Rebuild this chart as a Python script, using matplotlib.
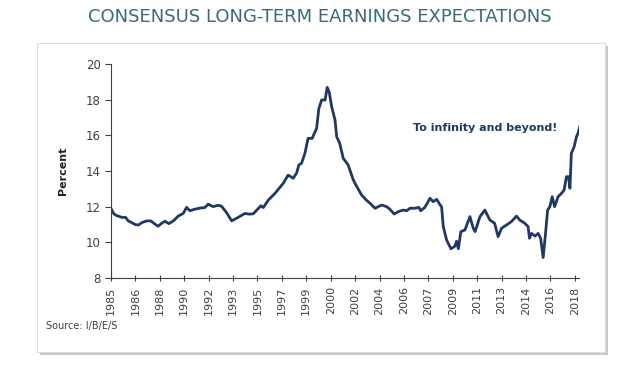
import matplotlib
matplotlib.use("Agg")
import matplotlib.pyplot as plt
from matplotlib.patches import Rectangle
import numpy as np

# long-term earnings growth expectations (decimal year, percent)
years = [1985.00, 1985.10, 1985.20, 1985.40, 1985.60, 1985.77, 1986.05, 1986.24, 1986.50, 1986.72,
         1986.96, 1987.20, 1987.55, 1987.86, 1988.10, 1988.38, 1988.63, 1988.87, 1989.15, 1989.47,
         1989.82, 1990.18, 1990.42, 1990.66, 1990.97, 1991.38, 1991.73, 1991.97, 1992.33, 1992.69,
         1992.93, 1993.29, 1993.65, 1994.12, 1994.60, 1994.90, 1995.20, 1995.56, 1995.75, 1995.92,
         1996.28, 1996.76, 1997.35, 1997.70, 1998.06, 1998.30, 1998.47, 1998.66, 1998.90, 1999.13,
         1999.42, 1999.74, 1999.90, 2000.10, 2000.35, 2000.50, 2000.65, 2000.82, 2001.06, 2001.18,
         2001.40, 2001.65, 2002.00, 2002.37, 2002.60, 2002.97, 2003.30, 2003.57, 2003.93, 2004.17,
         2004.40, 2004.76, 2005.00, 2005.30, 2005.60, 2005.95, 2006.20, 2006.43, 2006.79, 2007.07,
         2007.20, 2007.50, 2007.87, 2008.10, 2008.35, 2008.60, 2008.70, 2008.82, 2009.06, 2009.37,
         2009.65, 2009.77, 2009.90, 2010.08, 2010.37, 2010.73, 2010.97, 2011.10, 2011.45, 2011.80,
         2012.16, 2012.50, 2012.75, 2013.00, 2013.35, 2013.70, 2014.07, 2014.30, 2014.66, 2014.90,
         2015.00, 2015.15, 2015.40, 2015.62, 2015.80, 2015.98, 2016.15, 2016.30, 2016.46, 2016.63,
         2016.80, 2017.05, 2017.30, 2017.48, 2017.65, 2017.80, 2017.90, 2018.00, 2018.20, 2018.37,
         2018.48, 2018.60]
percent = [11.90, 11.75, 11.60, 11.50, 11.45, 11.40, 11.40, 11.20, 11.10, 11.00,
           10.97, 11.10, 11.20, 11.20, 11.05, 10.90, 11.07, 11.18, 11.05, 11.20,
           11.47, 11.62, 11.96, 11.77, 11.85, 11.92, 11.95, 12.14, 12.00, 12.08,
           12.02, 11.66, 11.20, 11.40, 11.62, 11.58, 11.60, 11.90, 12.05, 11.95,
           12.37, 12.75, 13.31, 13.77, 13.59, 13.87, 14.34, 14.43, 14.99, 15.83,
           15.83, 16.39, 17.50, 17.98, 17.98, 18.69, 18.40, 17.60, 16.86, 15.92,
           15.55, 14.71, 14.34, 13.50, 13.15, 12.65, 12.37, 12.19, 11.91, 12.00,
           12.09, 12.00, 11.85, 11.59, 11.72, 11.81, 11.77, 11.91, 11.91, 11.96,
           11.77, 11.96, 12.47, 12.28, 12.41, 12.09, 12.00, 10.88, 10.13, 9.64,
           9.78, 10.06, 9.64, 10.60, 10.69, 11.44, 10.79, 10.60, 11.44, 11.81,
           11.25, 11.07, 10.32, 10.79, 10.97, 11.16, 11.47, 11.25, 11.07, 10.88,
           10.23, 10.50, 10.35, 10.50, 10.22, 9.15, 10.50, 11.81, 12.00, 12.56,
           12.00, 12.56, 12.75, 12.93, 13.68, 13.68, 13.03, 14.99, 15.36, 15.92,
           16.11, 16.48]

tick_labels = ['1985', '1986', '1988', '1990', '1992', '1993', '1995', '1997', '1999', '2000',
               '2002', '2004', '2006', '2007', '2009', '2011', '2013', '2014', '2016', '2018']

fig = plt.figure(figsize=(6.4, 3.71), dpi=100)

# white card with a soft shadow, kept behind the axes
fig.patches.append(Rectangle((0.062, 0.043), 0.888, 0.833, transform=fig.transFigure,
                             facecolor='#c8c8c8', edgecolor='none', zorder=-2))
fig.patches.append(Rectangle((0.058, 0.051), 0.887, 0.833, transform=fig.transFigure,
                             facecolor='white', edgecolor='#dddddd', lw=0.8, zorder=-1))

fig.text(0.5, 0.955, 'CONSENSUS LONG-TERM EARNINGS EXPECTATIONS', ha='center', va='center',
         fontsize=13, color='#3d6a78', family='DejaVu Sans')

ax = fig.add_axes([0.1734, 0.2507, 0.7313, 0.5768])
ax.set_facecolor('none')
ax.plot(years, percent, color='#1f3864', lw=2)

ax.set_xlim(1985, 2018.55)
ax.set_ylim(8, 20)
ax.set_yticks(range(8, 21, 2))
xpos = 1985 + 1.75 * np.arange(len(tick_labels))
ax.set_xticks(xpos)
ax.set_xticklabels(tick_labels, rotation='vertical')
ax.tick_params(axis='y', labelsize=8.5, colors='#404040', direction='out', length=4)
ax.tick_params(axis='x', labelsize=8, colors='#404040', direction='inout', length=5)
for s in ['top', 'right']:
    ax.spines[s].set_visible(False)
for s in ['left', 'bottom']:
    ax.spines[s].set_color('#404040')
ax.set_ylabel('Percent', fontsize=8, fontweight='bold', color='#222222', labelpad=13)

ax.text(2006.65, 16.4, 'To infinity and beyond!', fontsize=8, fontweight='bold',
        color='#1f3864', va='center')

fig.text(0.072, 0.113, 'Source: I/B/E/S', fontsize=7, color='#404040')

fig.savefig('out.png', dpi=100)
